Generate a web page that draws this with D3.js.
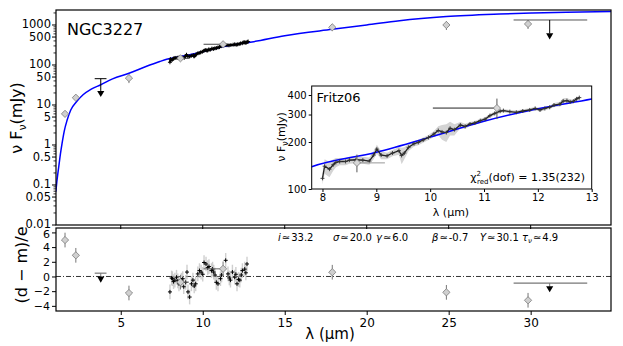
<!DOCTYPE html>
<html>
<head>
<meta charset="utf-8">
<script src="https://cdn.jsdelivr.net/npm/d3@7"></script>
<style>
body { margin: 0; background: #fff; }
svg text { font-family: "DejaVu Sans", sans-serif; fill: #000; }
</style>
</head>
<body>
<svg id="chart" width="623" height="346"></svg>
<script>
// photometric points (mJy) and their errors
var photWave = [1.6, 2.26, 5.5, 8.64, 11.24, 17.9, 24.86, 29.84];
var photFlux = [6.0, 15.2, 47, 147, 330, 875, 1000, 1060];
var photErr = [0.02, 0.02, 0.25, 0.13, 0.15, 0.2, 0.25, 0.25];
var photXLo = [1.6, 2.26, 5.5, 8.64, 10.05, 17.9, 24.86, 29.84];
var photXHi = [1.6, 2.26, 5.5, 9.16, 11.24, 17.9, 24.86, 29.84];
var photRes = [4.96, 2.88, -2.25, -0.77, 1.04, 0.58, -2.16, -3.24];

// upper limits
var ulWave = [3.78, 31.16];
var ulFlux = [45.5, 1333];
var ulTip = [17.8, 490];
var ulXLo = [3.41, 28.96];
var ulXHi = [4.13, 33.45];
var ulResCap = [0.45, -0.9];
var ulResTip = [-0.3, -1.6];

// spectrum (Fritz06)
var specWave = [8.0, 8.04, 8.13, 8.2, 8.25, 8.32, 8.43, 8.5, 8.62, 8.75,
  8.87, 8.95, 9.01, 9.09, 9.2, 9.3, 9.42, 9.47, 9.52, 9.6,
  9.7, 9.78, 9.87, 9.97, 10.07, 10.15, 10.22, 10.3, 10.37, 10.45,
  10.56, 10.65, 10.74, 10.83, 10.93, 11.02, 11.11, 11.2, 11.3, 11.36,
  11.48, 11.6, 11.72, 11.85, 11.95, 12.04, 12.13, 12.22, 12.3, 12.41,
  12.47, 12.54, 12.6, 12.66, 12.72, 12.77];
var specFlux = [117, 140, 134, 143, 148, 150, 150, 153, 154, 153,
  151, 165, 180, 165, 163, 170, 176, 164, 170, 185,
  195, 199, 206, 214, 225, 237, 232, 230, 245, 240,
  257, 252, 261, 265, 274, 280, 295, 305, 315, 318,
  313, 310, 316, 321, 328, 321, 328, 334, 345, 350,
  366, 368, 362, 365, 378, 385];
var specErr = [10, 15, 15, 12, 10, 8, 8, 8, 8, 8,
  8, 10, 12, 10, 8, 8, 10, 20, 15, 10,
  8, 8, 8, 8, 10, 15, 25, 30, 25, 20,
  12, 10, 8, 8, 8, 8, 8, 8, 8, 8,
  8, 8, 8, 8, 8, 8, 8, 8, 10, 12,
  15, 15, 12, 10, 10, 8];

// spectrum residuals
var resWave = [8.0, 8.1, 8.15, 8.22, 8.3, 8.4, 8.48, 8.55, 8.7, 8.78,
  8.84, 8.96, 9.04, 9.1, 9.2, 9.31, 9.4, 9.48, 9.57, 9.7,
  9.8, 9.9, 10.0, 10.08, 10.2, 10.3, 10.38, 10.53, 10.6, 10.67,
  10.75, 10.83, 10.93, 11.08, 11.15, 11.4, 11.54, 11.62, 11.69, 11.81,
  11.95, 12.02, 12.09, 12.18, 12.26, 12.35, 12.42, 12.56, 12.63, 12.7];
var resVal = [-2.1, -0.2, -0.3, -0.7, -0.5, -0.1, -0.6, -1.0, -0.5, -0.3,
  -1.4, -0.8, 0.6, -2.1, -2.8, -1.0, -0.5, -1.3, -1.0, 0.35,
  0.8, 0.6, 0.3, 1.9, 1.7, 1.2, 1.35, 0.8, 1.0, 0.6,
  0.2, -0.8, -1.0, -0.3, 0.2, 2.2, 0.35, -0.2, -0.5, 0.6,
  -0.1, 0.3, -1.0, -0.4, -0.5, 0.2, 0.8, 1.0, 0.5, 1.7];

// best-fit model
var modelWave = [1.04, 1.1, 1.16, 1.22, 1.32, 1.42, 1.55, 1.73, 1.95, 2.3,
  2.7, 3.2, 3.78, 4.5, 5.5, 6.5, 7.38, 7.8, 9, 10,
  11, 12, 13, 15, 17.9, 20, 22, 24.86, 28.1, 30.1, 32.2, 34.9];
var modelFlux = [0.068, 0.12, 0.19, 0.29, 0.6, 1.1, 2.2, 4.2, 7.5, 12,
  18, 25, 32, 45, 62, 90, 122, 139, 172, 215,
  272, 327, 377, 540, 780, 1000, 1280, 1620, 1870, 1990, 2090, 2160];

// ticks
var xTicks = [5, 10, 15, 20, 25, 30];
var yTicks = [0.01, 0.05, 0.1, 0.5, 1, 5, 10, 50, 100, 500, 1000];
var yTickLabels = ["0.01", "0.05", "0.1", "0.5", "1", "5", "10", "50", "100", "500", "1000"];
var resTicks = [-4, -2, 0, 2, 4, 6];
var inXTicks = [8, 9, 10, 11, 12, 13];
var inYTicks = [100, 200, 300, 400];

var paramSym = ["i", "σ", "γ", "β", "Y", "τ"];
var paramVal = ["33.2", "20.0", "6.0", "-0.7", "30.1", "4.9"];

var svg = d3.select('#chart');

var x = d3.scaleLinear().domain([1.05, 34.9]).range([56, 611]);
var yTop = d3.scaleLog().domain([0.01, 2370]).range([225, 10]);
var yRes = d3.scaleLinear().domain([-4.7, 6.6]).range([311, 228]);
var xIn = d3.scaleLinear().domain([7.8, 13]).range([311.7, 591.7]);
var yIn = d3.scaleLog().domain([100, 457]).range([189, 86]);

var defs = svg.append('defs');
defs.append('clipPath').attr('id', 'clipTop').append('rect')
  .attr('x', 56).attr('y', 10).attr('width', 555).attr('height', 215);
defs.append('clipPath').attr('id', 'clipIn').append('rect')
  .attr('x', 311.7).attr('y', 86).attr('width', 280).attr('height', 103);

// plus marker as a d3 symbol type
var plusType = {
  draw: function (ctx, size) {
    var r = Math.sqrt(size) / 2;
    ctx.moveTo(-r, 0); ctx.lineTo(r, 0);
    ctx.moveTo(0, -r); ctx.lineTo(0, r);
  }
};
var plus = d3.symbol().type(plusType).size(16);
var diamond = d3.symbol().type(d3.symbolSquare).size(26);
var tri = d3.symbol().type(d3.symbolTriangle).size(22);

var photIdx = d3.range(photWave.length);
var specIdx = d3.range(specWave.length);
var ulIdx = d3.range(ulWave.length);

// ---------- top panel ----------
var topG = svg.append('g').attr('clip-path', 'url(#clipTop)');

// model curve
topG.append('path')
  .datum(d3.range(modelWave.length))
  .attr('fill', 'none').attr('stroke', '#0000ff').attr('stroke-width', 1.5)
  .attr('d', d3.line().curve(d3.curveMonotoneX)
    .x(i => x(modelWave[i])).y(i => yTop(modelFlux[i])));

// spectrum
topG.append('path')
  .datum(specIdx)
  .attr('fill', 'none').attr('stroke', '#000').attr('stroke-width', 2.2)
  .attr('d', d3.line().x(i => x(specWave[i])).y(i => yTop(specFlux[i])));
topG.selectAll('.sp').data(specIdx).join('path')
  .attr('transform', i => `translate(${x(specWave[i])},${yTop(specFlux[i])})`)
  .attr('d', plus).attr('stroke', '#000').attr('stroke-width', 1);

// photometry error bars
topG.selectAll('.pe').data(photIdx).join('line')
  .attr('x1', i => x(photWave[i])).attr('x2', i => x(photWave[i]))
  .attr('y1', i => yTop(photFlux[i] * (1 - photErr[i])))
  .attr('y2', i => yTop(photFlux[i] * (1 + photErr[i])))
  .attr('stroke', '#777').attr('stroke-width', 1);
topG.selectAll('.px').data(photIdx.filter(i => photXHi[i] > photXLo[i])).join('line')
  .attr('x1', i => x(photXLo[i])).attr('x2', i => x(photXHi[i]))
  .attr('y1', i => yTop(photFlux[i])).attr('y2', i => yTop(photFlux[i]))
  .attr('stroke', '#444').attr('stroke-width', 1);
topG.selectAll('.pd').data(photIdx).join('path')
  .attr('transform', i => `translate(${x(photWave[i])},${yTop(photFlux[i])}) rotate(45)`)
  .attr('d', diamond).attr('fill', '#d0d0d0').attr('stroke', '#808080').attr('stroke-width', 0.8);

// upper limits
ulIdx.forEach(function (i) {
  topG.append('line')
    .attr('x1', x(ulXLo[i])).attr('x2', x(ulXHi[i]))
    .attr('y1', yTop(ulFlux[i])).attr('y2', yTop(ulFlux[i]))
    .attr('stroke', i == 0 ? '#000' : '#555').attr('stroke-width', 1);
  topG.append('line')
    .attr('x1', x(ulWave[i])).attr('x2', x(ulWave[i]))
    .attr('y1', yTop(ulFlux[i])).attr('y2', yTop(ulTip[i]) - 4)
    .attr('stroke', '#000').attr('stroke-width', 1);
  topG.append('path')
    .attr('transform', `translate(${x(ulWave[i])},${yTop(ulTip[i]) - 2}) rotate(180)`)
    .attr('d', tri).attr('fill', '#000');
});

// frame + axes
svg.append('rect').attr('x', 56).attr('y', 10).attr('width', 555).attr('height', 215)
  .attr('fill', 'none').attr('stroke', '#000').attr('stroke-width', 1.2);

var yAxisTop = svg.append('g');
// minor ticks
var minor = [];
for (var e = -2; e <= 3; e++) for (var m = 2; m <= 9; m++) {
  var v = m * Math.pow(10, e);
  if (v < 2370 && m != 5) minor.push(v);
}
yAxisTop.selectAll('.mn').data(minor).join('line')
  .attr('x1', 53.5).attr('x2', 56).attr('y1', d => yTop(d)).attr('y2', d => yTop(d))
  .attr('stroke', '#000').attr('stroke-width', 0.8);
yAxisTop.selectAll('.mj').data(yTicks).join('line')
  .attr('x1', 52).attr('x2', 56).attr('y1', d => yTop(d)).attr('y2', d => yTop(d))
  .attr('stroke', '#000').attr('stroke-width', 1);
yAxisTop.selectAll('text').data(yTicks).join('text')
  .attr('x', 51).attr('y', d => yTop(d) + 3.5 - (d == 0.01 ? 1 : 0))
  .attr('text-anchor', 'end').attr('font-size', 11.5)
  .text((d, i) => yTickLabels[i]);

svg.selectAll('.tx').data(xTicks).join('line')
  .attr('x1', d => x(d)).attr('x2', d => x(d)).attr('y1', 225).attr('y2', 229)
  .attr('stroke', '#000').attr('stroke-width', 1);

svg.append('text').attr('x', 67).attr('y', 35).attr('font-size', 16).text('NGC3227');

var yl = svg.append('text').attr('transform', 'translate(22,118) rotate(-90)')
  .attr('text-anchor', 'middle').attr('font-size', 16);
yl.append('tspan').text('ν F');
yl.append('tspan').attr('font-size', 11).attr('dy', 4).text('ν');
yl.append('tspan').attr('dy', -4).text('(mJy)');

// ---------- inset ----------
svg.append('rect').attr('x', 311.7).attr('y', 86).attr('width', 280).attr('height', 103)
  .attr('fill', '#fff');
var ins = svg.append('g').attr('clip-path', 'url(#clipIn)');

ins.append('path').datum(specIdx)
  .attr('fill', '#d4d4d4')
  .attr('d', d3.area().x(i => xIn(specWave[i]))
    .y0(i => yIn(specFlux[i] - specErr[i])).y1(i => yIn(specFlux[i] + specErr[i])));
ins.append('path').datum(d3.range(modelWave.length))
  .attr('fill', 'none').attr('stroke', '#0000ff').attr('stroke-width', 1.5)
  .attr('d', d3.line().curve(d3.curveMonotoneX)
    .x(i => xIn(modelWave[i])).y(i => yIn(modelFlux[i])));
ins.append('path').datum(specIdx)
  .attr('fill', 'none').attr('stroke', '#222').attr('stroke-width', 1.3)
  .attr('d', d3.line().x(i => xIn(specWave[i])).y(i => yIn(specFlux[i])));
ins.selectAll('.sp').data(specIdx).join('path')
  .attr('transform', i => `translate(${xIn(specWave[i])},${yIn(specFlux[i])})`)
  .attr('d', plus).attr('stroke', '#333').attr('stroke-width', 0.9);

var inPhot = photIdx.filter(i => photWave[i] > 8 && photWave[i] < 13);
ins.selectAll('.pe').data(inPhot).join('line')
  .attr('x1', i => xIn(photWave[i])).attr('x2', i => xIn(photWave[i]))
  .attr('y1', i => yIn(photFlux[i] * (1 - photErr[i])))
  .attr('y2', i => yIn(photFlux[i] * (1 + photErr[i])))
  .attr('stroke', '#555').attr('stroke-width', 1);
ins.selectAll('.px').data(inPhot).join('line')
  .attr('x1', i => xIn(photXLo[i])).attr('x2', i => xIn(photXHi[i]))
  .attr('y1', i => yIn(photFlux[i])).attr('y2', i => yIn(photFlux[i]))
  .attr('stroke', (i, k) => k == 0 ? '#999' : '#222').attr('stroke-width', 1);
ins.selectAll('.pd').data(inPhot).join('path')
  .attr('transform', i => `translate(${xIn(photWave[i])},${yIn(photFlux[i])}) rotate(45)`)
  .attr('d', diamond).attr('fill', '#d8d8d8').attr('stroke', '#808080').attr('stroke-width', 0.8);

svg.append('rect').attr('x', 311.7).attr('y', 86).attr('width', 280).attr('height', 103)
  .attr('fill', 'none').attr('stroke', '#000').attr('stroke-width', 1);

svg.append('g').attr('transform', 'translate(0,189)')
  .call(d3.axisBottom(xIn).tickValues(inXTicks).tickSize(3).tickPadding(2).tickFormat(d3.format('d')))
  .call(g => g.select('.domain').remove())
  .call(g => g.selectAll('text').attr('font-size', 10).attr('font-family', 'DejaVu Sans'));
svg.append('g').attr('transform', 'translate(311.7,0)')
  .call(d3.axisLeft(yIn).tickValues(inYTicks).tickSize(3).tickPadding(2).tickFormat(d3.format('d')))
  .call(g => g.select('.domain').remove())
  .call(g => g.selectAll('text').attr('font-size', 10).attr('font-family', 'DejaVu Sans'));

svg.append('text').attr('x', 316.5).attr('y', 102).attr('font-size', 13).text('Fritz06');
svg.append('text').attr('x', 451).attr('y', 216).attr('text-anchor', 'middle')
  .attr('font-size', 11).text('λ (μm)');
var iyl = svg.append('text').attr('transform', 'translate(285,137) rotate(-90)')
  .attr('text-anchor', 'middle').attr('font-size', 11);
iyl.append('tspan').text('ν F');
iyl.append('tspan').attr('font-size', 8).attr('dy', 3).text('ν');
iyl.append('tspan').attr('dy', -3).text('(mJy)');

var chi = svg.append('text').attr('x', 585).attr('y', 181).attr('text-anchor', 'end')
  .attr('font-size', 11);
chi.append('tspan').text('χ');
chi.append('tspan').attr('font-size', 7).attr('dy', -5).text('2');
chi.append('tspan').attr('font-size', 7).attr('dx', -4).attr('dy', 8).text('red');
chi.append('tspan').attr('dy', -3).text('(dof) = 1.35(232)');

// ---------- residual panel ----------
var bot = svg.append('g');
bot.append('line').attr('x1', 56).attr('x2', 611).attr('y1', yRes(0)).attr('y2', yRes(0))
  .attr('stroke', '#000').attr('stroke-width', 0.8).attr('stroke-dasharray', '5,2,1,2');

var resIdx = d3.range(resWave.length);
bot.selectAll('.re').data(resIdx).join('line')
  .attr('x1', i => x(resWave[i])).attr('x2', i => x(resWave[i]))
  .attr('y1', i => yRes(resVal[i] - 1)).attr('y2', i => yRes(resVal[i] + 1))
  .attr('stroke', '#bbb').attr('stroke-width', 1.4).attr('stroke-opacity', 0.7);
bot.selectAll('.rp').data(resIdx).join('path')
  .attr('transform', i => `translate(${x(resWave[i])},${yRes(resVal[i])})`)
  .attr('d', plus).attr('stroke', '#000').attr('stroke-width', 1);

bot.selectAll('.pe').data(photIdx).join('line')
  .attr('x1', i => x(photWave[i])).attr('x2', i => x(photWave[i]))
  .attr('y1', i => yRes(photRes[i] - 1)).attr('y2', i => yRes(photRes[i] + 1))
  .attr('stroke', '#777').attr('stroke-width', 1);
bot.selectAll('.px').data(photIdx.filter(i => photXHi[i] > photXLo[i])).join('line')
  .attr('x1', i => x(photXLo[i])).attr('x2', i => x(photXHi[i]))
  .attr('y1', i => yRes(photRes[i])).attr('y2', i => yRes(photRes[i]))
  .attr('stroke', '#666').attr('stroke-width', 1);
bot.selectAll('.pd').data(photIdx).join('path')
  .attr('transform', i => `translate(${x(photWave[i])},${yRes(photRes[i])}) rotate(45)`)
  .attr('d', diamond).attr('fill', '#d0d0d0').attr('stroke', '#808080').attr('stroke-width', 0.8);

ulIdx.forEach(function (i) {
  bot.append('line')
    .attr('x1', x(ulXLo[i])).attr('x2', x(ulXHi[i]))
    .attr('y1', yRes(ulResCap[i])).attr('y2', yRes(ulResCap[i]))
    .attr('stroke', '#777').attr('stroke-width', 1.2);
  bot.append('line')
    .attr('x1', x(ulWave[i])).attr('x2', x(ulWave[i]))
    .attr('y1', yRes(ulResCap[i])).attr('y2', yRes(ulResTip[i]))
    .attr('stroke', '#777').attr('stroke-width', 1);
  bot.append('path')
    .attr('transform', `translate(${x(ulWave[i])},${yRes(ulResTip[i])}) rotate(180)`)
    .attr('d', tri).attr('fill', '#000');
});

svg.append('rect').attr('x', 56).attr('y', 228).attr('width', 555).attr('height', 83)
  .attr('fill', 'none').attr('stroke', '#000').attr('stroke-width', 1.2);

svg.append('g').attr('transform', 'translate(0,311)')
  .call(d3.axisBottom(x).tickValues(xTicks).tickSize(4).tickPadding(3).tickFormat(d3.format('d')))
  .call(g => g.select('.domain').remove())
  .call(g => g.selectAll('text').attr('font-size', 12).attr('font-family', 'DejaVu Sans'));
svg.append('g').attr('transform', 'translate(56,0)')
  .call(d3.axisLeft(yRes).tickValues(resTicks).tickSize(4).tickPadding(2)
    .tickFormat(d => d < 0 ? '−' + Math.abs(d) : String(d)))
  .call(g => g.select('.domain').remove())
  .call(g => g.selectAll('text').attr('font-size', 11).attr('font-family', 'DejaVu Sans')
    .attr('dy', d => d == 6 ? '0.45em' : '0.32em'));

svg.append('text').attr('transform', 'translate(27,265) rotate(-90)')
  .attr('text-anchor', 'middle').attr('font-size', 16).text('(d − m)/e');
svg.append('text').attr('x', 330).attr('y', 339).attr('text-anchor', 'middle')
  .attr('font-size', 15).text('λ (μm)');

// fit parameters
var paramX = [278, 333, 376, 432, 480, 522];
var pt = svg.append('g');
paramSym.forEach(function (s, k) {
  var t = pt.append('text').attr('x', paramX[k]).attr('y', 241).attr('font-size', 10);
  t.append('tspan').attr('font-style', 'italic').text(s);
  if (s == 'τ') t.append('tspan').attr('font-size', 7).attr('font-style', 'italic').attr('dy', 2).text('ν');
  t.append('tspan').attr('dy', s == 'τ' ? -2 : 0).text('\u200a≃\u200a' + paramVal[k]);
});
</script>
</body>
</html>
